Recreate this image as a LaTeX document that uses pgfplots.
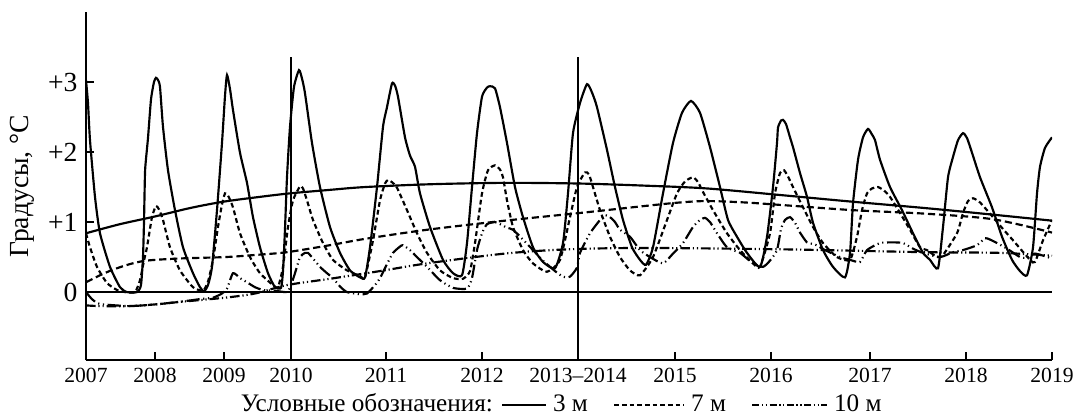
\documentclass[border=0pt]{standalone}
\usepackage{fontspec}
\setmainfont{Liberation Serif}
\usepackage{pgfplots}
\pgfplotsset{compat=1.18}
\begin{document}
\begin{tikzpicture}
\useasboundingbox (-35.83pt,-24.17pt) rectangle (412.08pt,150pt);
\begin{axis}[
 at={(0,0)}, anchor=south west,
 scale only axis, width=402.5pt, height=145pt,
 xmin=86, xmax=1052, ymin=-0.97, ymax=4,
 axis lines*=left,
 axis line style={line width=0.8pt},
 tick align=inside,
 major tick length=3.3pt,
 tick style={line width=0.6pt, black},
 xtick={86,155,224,291,386,482,578,675,771,870,966,1052},
 xticklabels={2007,2008,2009,2010,2011,2012,2013--2014,2015,2016,2017,2018,2019},
 ytick={0,1,2,3},
 yticklabels={0,+1,+2,+3},
 x tick label style={font=\fontsize{9}{10}\selectfont},
 y tick label style={font=\fontsize{11.5}{13}\selectfont},
 ylabel={Градусы, °C},
 ylabel style={font=\fontsize{11.5}{13}\selectfont, at={(axis description cs:-0.066,0.5)}, anchor=center},
]
% reference lines
\addplot[black, line width=0.85pt] coordinates {(86,0) (1052,0)};
\addplot[black, line width=0.85pt] coordinates {(291,-0.97) (291,3.36)};
\addplot[black, line width=0.85pt] coordinates {(578,-0.97) (578,3.36)};
% 3 m seasonal
\addplot[black, line width=0.9pt, smooth, tension=0.35] coordinates {
(86,3.03) (88,2.7) (90,2.17) (95,1.36) (100,0.84) (110,0.36) (120,0.07) (127,0.0) (137,0.0) (141,0.1) (143,0.5) (144,1.0) (145,1.7) (146,1.9) (148,2.2) (151,2.75) (154,3.0) (156,3.06) (158,3.03) (160,2.93) (163,2.36) (168,1.74) (175,1.17) (183,0.64) (193,0.27) (200,0.07) (204,0.01) (208,0.1) (212,0.36) (217,1.17) (222,2.13) (225,2.8) (227,3.1) (230,2.9) (233,2.6) (240,1.99) (247,1.56) (253,1.07) (260,0.64) (268,0.27) (275,0.07) (281,0.06) (283,0.3) (285,0.9) (287,1.64) (290,2.36) (294,2.93) (299,3.17) (302,3.05) (305,2.84) (312,2.13) (320,1.5) (330,0.93) (340,0.56) (350,0.31) (360,0.21) (365,0.21) (370,0.64) (377,1.5) (383,2.36) (387,2.64) (392,2.98) (395,2.95) (398,2.79) (405,2.21) (410,1.95) (415,1.79) (420,1.41) (430,0.93) (443,0.46) (453,0.27) (462,0.24) (467,0.7) (472,1.5) (477,2.27) (482,2.79) (487,2.92) (490,2.94) (495,2.91) (500,2.64) (507,2.13) (515,1.5) (523,1.07) (533,0.64) (543,0.43) (555,0.34) (563,0.7) (568,1.41) (573,2.27) (580,2.7) (587,2.97) (592,2.85) (597,2.64) (607,2.03) (615,1.5) (623,1.03) (632,0.64) (640,0.46) (646,0.39) (653,0.64) (663,1.41) (673,2.13) (682,2.56) (691,2.73) (700,2.56) (710,2.07) (720,1.5) (728,1.03) (737,0.79) (747,0.56) (760,0.36) (767,0.79) (773,1.5) (777,2.13) (778,2.35) (781,2.45) (783,2.46) (786,2.4) (790,2.21) (793,2.07) (800,1.7) (807,1.36) (813,0.99) (823,0.6) (833,0.36) (845,0.21) (850,0.56) (853,1.27) (858,1.89) (863,2.21) (868,2.33) (872,2.25) (875,2.17) (880,1.89) (890,1.5) (902,1.17) (913,0.84) (923,0.56) (930,0.46) (938,0.34) (943,0.93) (948,1.64) (953,1.93) (958,2.17) (963,2.27) (967,2.2) (972,1.99) (980,1.64) (992,1.21) (1002,0.79) (1012,0.46) (1020,0.3) (1027,0.24) (1033,0.64) (1037,1.41) (1040,1.79) (1045,2.06) (1052,2.21)
};
% 3 m trend
\addplot[black, line width=0.9pt, smooth] coordinates {
(86,0.84) (120,0.97) (155,1.08) (190,1.2) (223,1.29) (260,1.36) (290,1.41) (330,1.46) (365,1.5) (430,1.54) (505,1.56) (580,1.55) (645,1.52) (707,1.48) (785,1.38) (853,1.29) (925,1.2) (990,1.11) (1052,1.02)
};
% 7 m seasonal
\addplot[black, line width=0.9pt, dash pattern=on 2pt off 1.3pt, smooth, tension=0.35] coordinates {
(86,0.84) (90,0.64) (97,0.36) (107,0.13) (117,0.03) (125,0.0) (135,0.0) (140,0.17) (144,0.45) (147,0.64) (152,1.07) (156,1.23) (159,1.18) (163,1.03) (170,0.64) (180,0.31) (193,0.07) (203,0.02) (208,0.15) (213,0.46) (218,0.93) (222,1.25) (225,1.41) (228,1.38) (233,1.21) (240,0.84) (250,0.5) (260,0.27) (273,0.1) (278,0.07) (283,0.36) (288,0.93) (293,1.31) (300,1.51) (303,1.48) (307,1.31) (313,1.03) (323,0.7) (333,0.46) (347,0.31) (360,0.23) (365,0.21) (373,0.74) (380,1.31) (385,1.55) (388,1.6) (392,1.57) (397,1.49) (407,1.17) (417,0.84) (427,0.56) (440,0.31) (453,0.2) (463,0.19) (470,0.3) (475,0.7) (482,1.41) (488,1.74) (495,1.81) (500,1.75) (503,1.64) (507,1.31) (513,0.93) (523,0.6) (533,0.41) (547,0.29) (560,0.46) (570,1.07) (577,1.5) (585,1.71) (589,1.68) (593,1.5) (600,1.17) (610,0.79) (620,0.5) (630,0.31) (640,0.24) (653,0.5) (667,1.03) (677,1.41) (685,1.58) (693,1.64) (698,1.57) (703,1.43) (713,1.17) (727,0.84) (740,0.6) (753,0.41) (760,0.36) (770,0.84) (775,1.41) (780,1.7) (784,1.74) (788,1.65) (793,1.5) (803,1.21) (813,0.93) (823,0.7) (837,0.5) (850,0.46) (857,0.79) (862,1.17) (867,1.41) (872,1.48) (878,1.5) (884,1.45) (890,1.36) (900,1.13) (910,0.89) (920,0.64) (927,0.6) (937,0.5) (943,0.53) (957,0.84) (963,1.13) (968,1.3) (973,1.34) (980,1.28) (993,1.07) (1003,0.9) (1013,0.74) (1030,0.46) (1035,0.43) (1043,0.74) (1052,1.03)
};
% 7 m trend
\addplot[black, line width=0.9pt, dash pattern=on 3pt off 1.6pt, smooth] coordinates {
(86,0.14) (100,0.24) (113,0.32) (130,0.4) (147,0.45) (180,0.48) (225,0.5) (255,0.53) (287,0.57) (330,0.67) (365,0.76) (427,0.89) (505,1.02) (580,1.13) (645,1.23) (680,1.28) (707,1.3) (745,1.28) (785,1.24) (853,1.17) (925,1.12) (993,1.04) (1052,0.85)
};
% 10 m seasonal
\addplot[black, line width=0.9pt, dash pattern=on 5.5pt off 1.5pt on 0.5pt off 1.5pt on 0.5pt off 1.5pt, smooth, tension=0.35] coordinates {
(86,0.0) (92,-0.1) (100,-0.17) (130,-0.2) (160,-0.17) (190,-0.12) (200,-0.1) (213,-0.08) (222,-0.02) (227,0.05) (233,0.27) (240,0.2) (247,0.14) (255,0.07) (263,0.03) (275,0.02) (287,0.0) (291,0.1) (295,0.27) (300,0.5) (305,0.56) (308,0.56) (313,0.48) (320,0.36) (327,0.27) (333,0.2) (340,0.08) (347,0.0) (360,-0.03) (367,-0.02) (375,0.1) (380,0.2) (387,0.4) (393,0.56) (400,0.65) (403,0.67) (410,0.6) (417,0.5) (427,0.36) (440,0.17) (453,0.06) (467,0.05) (472,0.2) (477,0.6) (482,0.84) (487,0.97) (495,1.0) (500,0.97) (507,0.92) (513,0.89) (523,0.75) (533,0.6) (543,0.45) (555,0.3) (563,0.22) (570,0.22) (577,0.35) (580,0.56) (590,0.84) (600,1.03) (605,1.1) (610,1.07) (615,1.0) (620,0.89) (630,0.79) (640,0.6) (650,0.5) (663,0.41) (673,0.55) (683,0.7) (693,0.93) (700,1.03) (705,1.06) (710,1.0) (717,0.84) (727,0.64) (740,0.56) (753,0.41) (763,0.36) (770,0.45) (777,0.6) (781,0.9) (785,1.03) (790,1.07) (795,0.99) (800,0.85) (807,0.71) (815,0.68) (825,0.6) (840,0.5) (850,0.46) (860,0.43) (867,0.6) (880,0.7) (893,0.71) (903,0.7) (913,0.62) (923,0.56) (940,0.5) (953,0.57) (963,0.6) (977,0.67) (985,0.77) (990,0.75) (997,0.7) (1007,0.62) (1020,0.5) (1027,0.49) (1035,0.55) (1052,0.48)
};
% 10 m trend
\addplot[black, line width=0.9pt, dash pattern=on 4pt off 1.2pt on 0.5pt off 1.2pt on 0.5pt off 1.2pt, smooth] coordinates {
(86,-0.19) (100,-0.2) (130,-0.2) (160,-0.17) (180,-0.14) (225,-0.08) (255,-0.02) (287,0.1) (330,0.19) (380,0.3) (427,0.41) (505,0.55) (567,0.61) (645,0.63) (785,0.61) (925,0.57) (1000,0.56) (1052,0.52)
};
\end{axis}
\node[anchor=base, font=\fontsize{10.5}{12}\selectfont] at (198pt,-21.5pt) {Условные обозначения:
\tikz[baseline=-0.6ex]\draw[line width=0.9pt] (0,0)--(18pt,0);~3~м\quad
\tikz[baseline=-0.6ex]\draw[line width=0.9pt, dash pattern=on 2pt off 1.2pt] (0,0)--(29pt,0);~7~м\quad
\tikz[baseline=-0.6ex]\draw[line width=0.9pt, dash pattern=on 3pt off 1pt on 0.6pt off 1pt on 0.6pt off 1pt] (0,0)--(31pt,0);~10~м};
\end{tikzpicture}
\end{document}
